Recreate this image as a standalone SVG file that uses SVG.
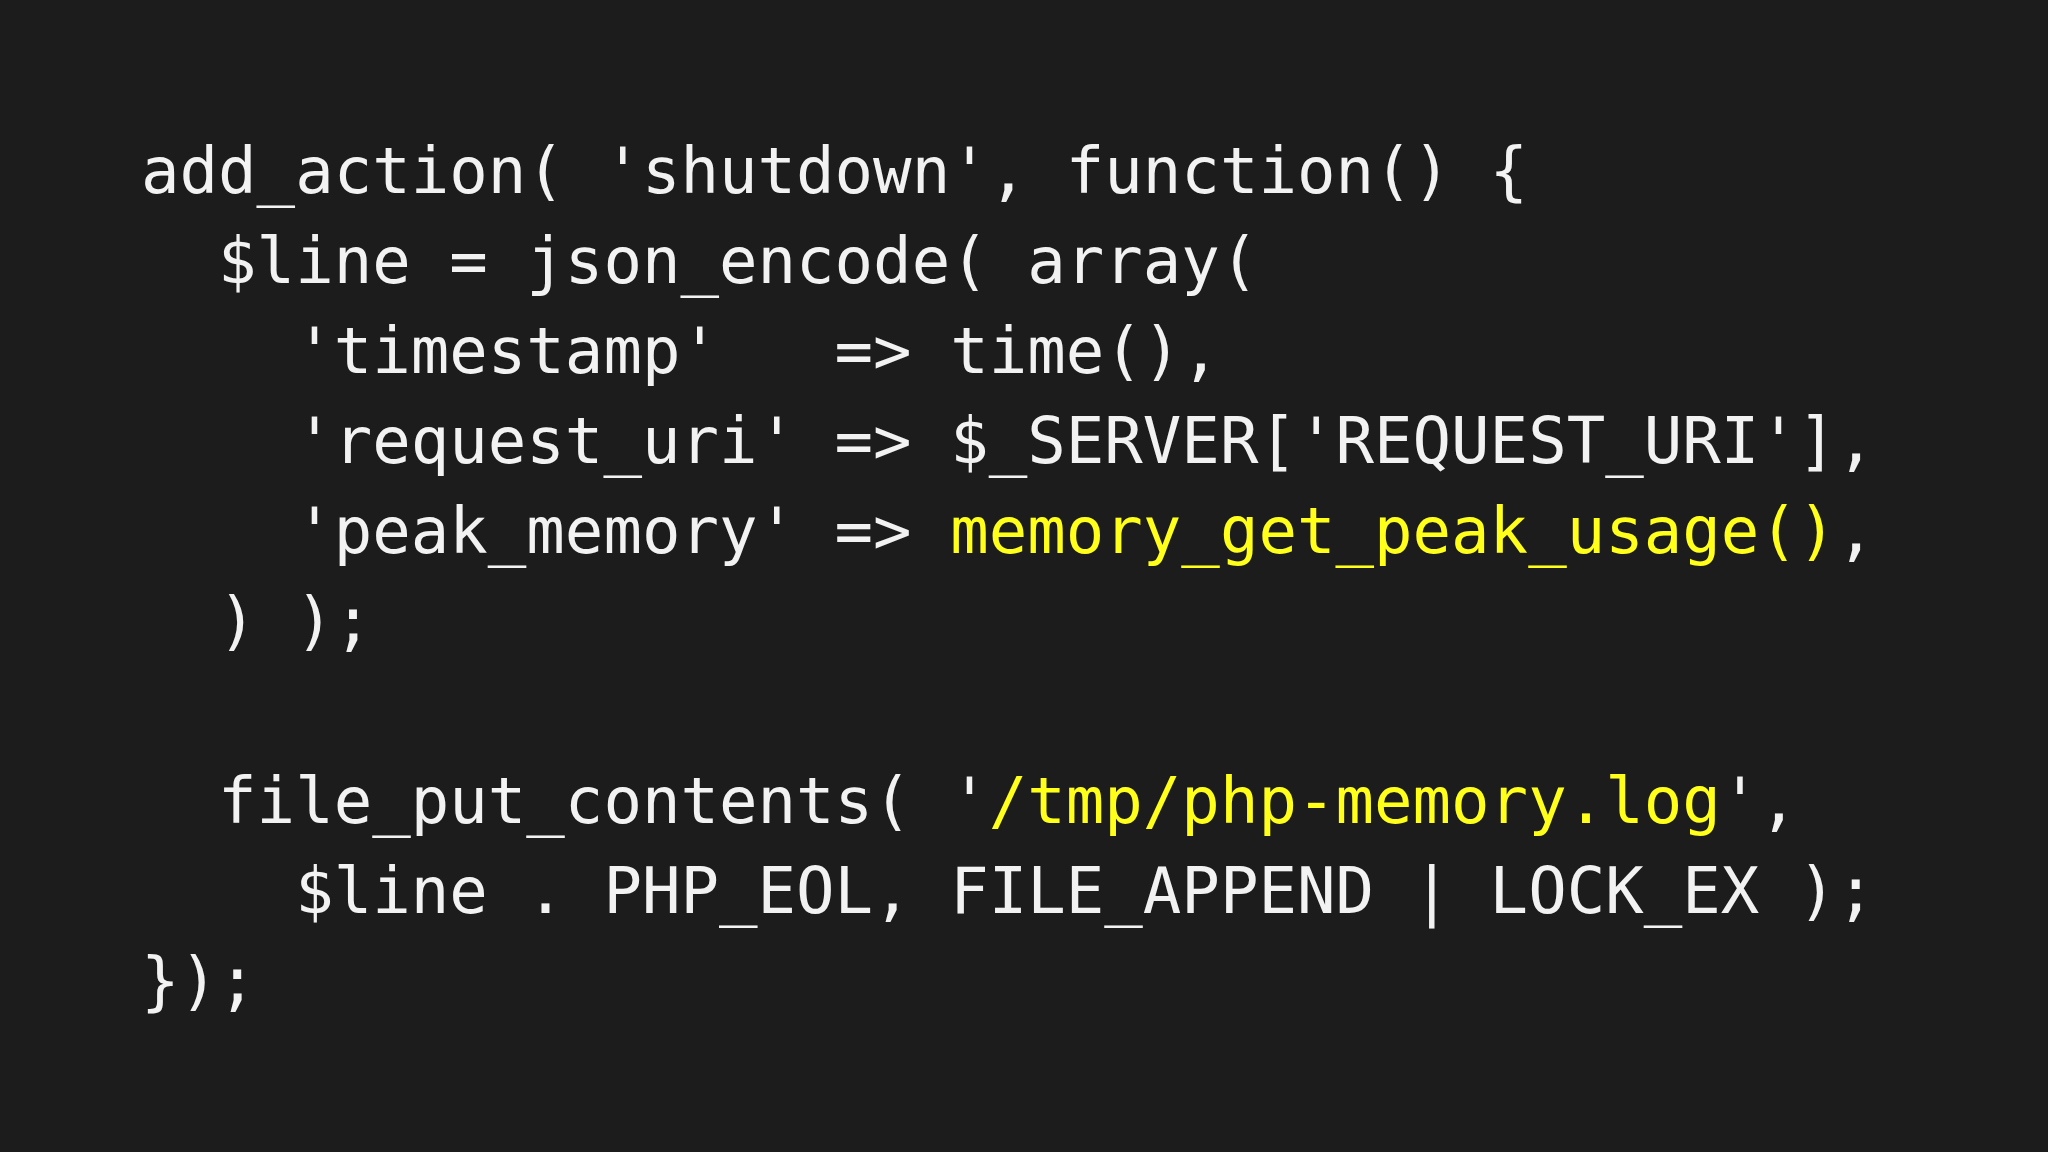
<svg xmlns="http://www.w3.org/2000/svg" width="2048" height="1152" viewBox="0 0 2048 1152">
<style>
text{font-family:"DejaVu Sans Mono","Liberation Mono",monospace;font-size:64px;fill:#f2f2f2;white-space:pre}
.y{fill:#ffff1a}
</style>
<rect width="2048" height="1152" fill="#1c1c1c"/>
<g id="code" xml:space="preserve">
<text x="141" y="193">add_action( 'shutdown', function() {</text>
<text x="141" y="283">  $line = json_encode( array(</text>
<text x="141" y="373">    'timestamp'   =&gt; time(),</text>
<text x="141" y="463">    'request_uri' =&gt; $_SERVER['REQUEST_URI'],</text>
<text x="141" y="553">    'peak_memory' =&gt; <tspan class="y">memory_get_peak_usage()</tspan>,</text>
<text x="141" y="643">  ) );</text>
<text x="141" y="823">  file_put_contents( '<tspan class="y">/tmp/php-memory.log</tspan>',</text>
<text x="141" y="913">    $line . PHP_EOL, FILE_APPEND | LOCK_EX );</text>
<text x="141" y="1003">});</text>
</g>
</svg>
